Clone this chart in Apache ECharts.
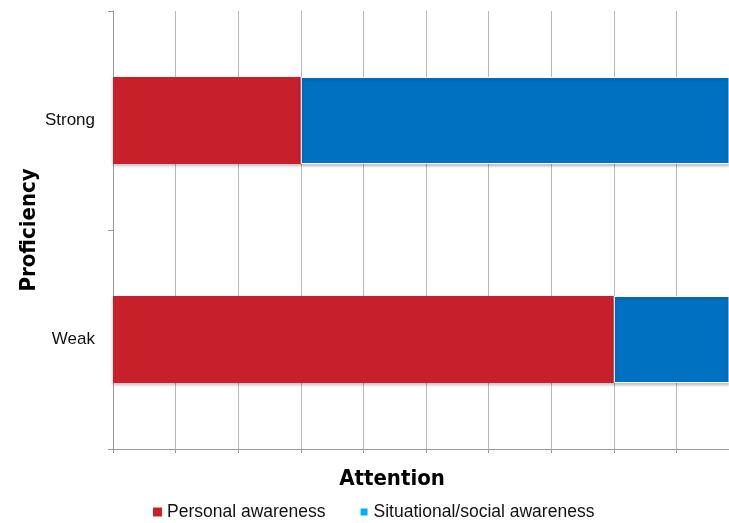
<!DOCTYPE html>
<html>
<head>
<meta charset="utf-8">
<script src="https://cdn.jsdelivr.net/npm/echarts@6/dist/echarts.min.js"></script>
<style>
  html, body { margin: 0; padding: 0; background: #fff; }
  #chart { width: 729px; height: 523px; }
</style>
</head>
<body>
<div id="chart"></div>
<script>
// categories (bottom to top)
const levels = ['Weak', 'Strong'];
// attention split (totals 10, the picture is cut off at ~9.84)
const personal = [8, 3];
const situational = [2, 7];

const font = '"Liberation Sans", Arial, sans-serif';
const titleFont = '"DejaVu Sans Condensed", "Liberation Sans", sans-serif';

const myChart = echarts.init(document.getElementById('chart'));
const option = {
  animation: false,
  textStyle: { fontFamily: font },
  grid: { left: 113, right: 0, top: 11, bottom: 74 },
  legend: {
    bottom: -3,
    left: 148,
    itemWidth: 9,
    itemHeight: 9,
    itemGap: 33,
    icon: 'rect',
    textStyle: { fontSize: 17.5, color: '#111', fontFamily: font },
    data: [
      { name: 'Personal awareness', itemStyle: { color: '#C8202A' } },
      { name: 'Situational/social awareness', itemStyle: { color: '#00B0F0' } },
    ],
  },
  xAxis: {
    type: 'value',
    min: 0,
    max: 9.84, // right edge of the picture cuts the axis
    interval: 1,
    name: 'Attention',
    nameLocation: 'middle',
    nameGap: 19,
    nameTextStyle: {
      fontSize: 22, fontWeight: 'bold', color: '#000', fontFamily: titleFont,
      padding: [0, 58, 0, 0],
    },
    axisLine: { show: true, lineStyle: { color: '#999' } },
    axisTick: { show: true, length: 4, lineStyle: { color: '#999' } },
    axisLabel: { show: false },
    splitLine: { show: true, lineStyle: { color: '#b8b8b8', width: 1 } },
  },
  yAxis: {
    type: 'category',
    data: levels,
    name: 'Proficiency',
    nameLocation: 'middle',
    nameGap: 73,
    nameMoveOverlap: false,
    nameRotate: 90,
    nameTextStyle: { fontSize: 22, fontWeight: 'bold', color: '#000', fontFamily: titleFont },
    axisLine: { show: true, lineStyle: { color: '#999' } },
    axisTick: { show: true, length: 5, lineStyle: { color: '#999' } },
    axisLabel: { fontSize: 17, color: '#111', margin: 18 },
  },
  series: [
    {
      name: 'Personal awareness',
      type: 'bar',
      stack: 'total',
      barWidth: 87,
      data: personal,
      itemStyle: {
        color: '#C8202A',
        shadowColor: 'rgba(0,0,0,0.25)',
        shadowBlur: 3,
        shadowOffsetY: 2,
      },
    },
    {
      name: 'Situational/social awareness',
      type: 'bar',
      stack: 'total',
      barWidth: 87,
      data: situational,
      itemStyle: {
        color: '#0070C0',
        borderColor: '#fff',
        borderWidth: 1,
        shadowColor: 'rgba(0,0,0,0.25)',
        shadowBlur: 3,
        shadowOffsetY: 2,
      },
    },
  ],
};
myChart.setOption(option);
window.addEventListener('resize', () => myChart.resize());
</script>
</body>
</html>
